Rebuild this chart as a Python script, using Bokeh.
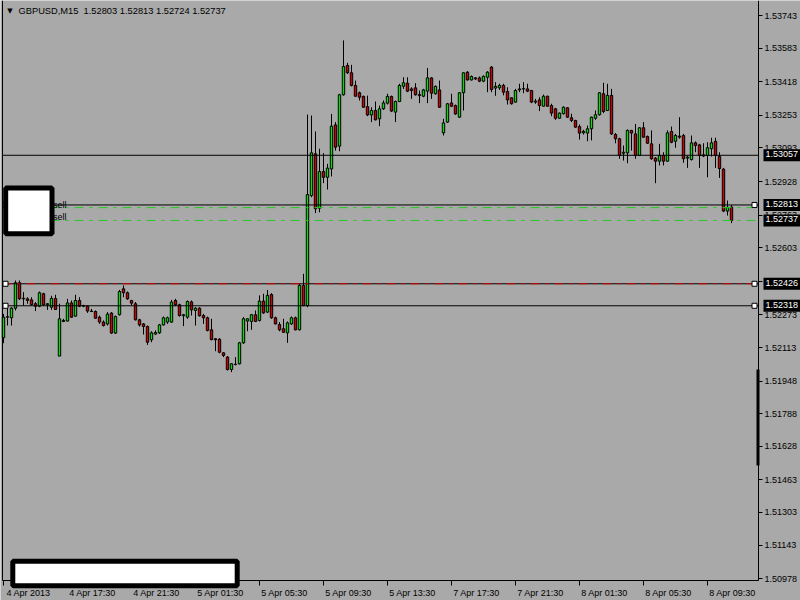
from bokeh.plotting import figure
from bokeh.models import (Range1d, FixedTicker, PrintfTickFormatter, LinearAxis,
                          Label, BoxAnnotation, ColumnDataSource)
from bokeh.embed import file_html
from bokeh.resources import INLINE

symbol = "GBPUSD,M15"

opens = [1.52161, 1.52264, 1.52259, 1.52306, 1.52431, 1.52352, 1.52352, 1.52347, 1.52328, 1.52316,
         1.52377, 1.52323, 1.52311, 1.52354, 1.52071, 1.52246, 1.52243, 1.52332, 1.52267, 1.52344,
         1.52316, 1.52316, 1.52292, 1.52290, 1.52262, 1.52238, 1.52229, 1.52282, 1.52184, 1.52274,
         1.52401, 1.52382, 1.52344, 1.52328, 1.52249, 1.52229, 1.52216, 1.52151, 1.52179, 1.52185,
         1.52224, 1.52238, 1.52238, 1.52344, 1.52323, 1.52269, 1.52262, 1.52337, 1.52295, 1.52306,
         1.52270, 1.52259, 1.52200, 1.52156, 1.52154, 1.52087, 1.52066, 1.52005, 1.52030, 1.52033,
         1.52136, 1.52243, 1.52241, 1.52274, 1.52246, 1.52341, 1.52287, 1.52373, 1.52259, 1.52226,
         1.52205, 1.52185, 1.52229, 1.52259, 1.52200, 1.52418, 1.52319, 1.52859, 1.53064, 1.52797,
         1.52977, 1.52949, 1.52990, 1.53206, 1.53102, 1.53354, 1.53498, 1.53462, 1.53400, 1.53364,
         1.53346, 1.53296, 1.53255, 1.53277, 1.53236, 1.53285, 1.53313, 1.53346, 1.53269, 1.53321,
         1.53396, 1.53411, 1.53383, 1.53388, 1.53355, 1.53347, 1.53372, 1.53437, 1.53359, 1.53378,
         1.53167, 1.53220, 1.53314, 1.53301, 1.53244, 1.53364, 1.53465, 1.53427, 1.53437, 1.53437,
         1.53421, 1.53440, 1.53490, 1.53387, 1.53388, 1.53400, 1.53370, 1.53339, 1.53318, 1.53378,
         1.53383, 1.53383, 1.53375, 1.53318, 1.53329, 1.53298, 1.53347, 1.53301, 1.53285, 1.53239,
         1.53261, 1.53290, 1.53241, 1.53228, 1.53198, 1.53167, 1.53166, 1.53187, 1.53239, 1.53256,
         1.53359, 1.53277, 1.53351, 1.53159, 1.53138, 1.53067, 1.53069, 1.53179, 1.53162, 1.53056,
         1.53192, 1.53149, 1.53113, 1.53043, 1.53028, 1.53056, 1.53028, 1.53174, 1.53126, 1.53151,
         1.53154, 1.53043, 1.53036, 1.53118, 1.53108, 1.53059, 1.53056, 1.53089, 1.53125, 1.53051,
         1.52989, 1.52783, 1.52803]
highs = [1.52278, 1.52311, 1.52311, 1.52442, 1.52442, 1.52385, 1.52360, 1.52360, 1.52336, 1.52388,
         1.52382, 1.52331, 1.52367, 1.52372, 1.52328, 1.52254, 1.52352, 1.52344, 1.52372, 1.52360,
         1.52323, 1.52319, 1.52303, 1.52295, 1.52270, 1.52246, 1.52287, 1.52287, 1.52270, 1.52396,
         1.52418, 1.52388, 1.52347, 1.52336, 1.52254, 1.52233, 1.52221, 1.52193, 1.52197, 1.52229,
         1.52265, 1.52265, 1.52347, 1.52352, 1.52328, 1.52278, 1.52344, 1.52344, 1.52311, 1.52311,
         1.52278, 1.52265, 1.52254, 1.52159, 1.52159, 1.52090, 1.52071, 1.52036, 1.52066, 1.52141,
         1.52262, 1.52257, 1.52278, 1.52295, 1.52369, 1.52377, 1.52396, 1.52380, 1.52265, 1.52238,
         1.52254, 1.52241, 1.52265, 1.52265, 1.52426, 1.52475, 1.53257, 1.53252, 1.53174, 1.53089,
         1.53067, 1.53015, 1.53260, 1.53220, 1.53359, 1.53621, 1.53511, 1.53501, 1.53424, 1.53370,
         1.53350, 1.53350, 1.53293, 1.53321, 1.53301, 1.53326, 1.53359, 1.53350, 1.53326, 1.53408,
         1.53440, 1.53440, 1.53391, 1.53411, 1.53375, 1.53383, 1.53486, 1.53440, 1.53400, 1.53424,
         1.53236, 1.53314, 1.53359, 1.53306, 1.53367, 1.53465, 1.53470, 1.53449, 1.53440, 1.53444,
         1.53449, 1.53470, 1.53495, 1.53416, 1.53408, 1.53408, 1.53391, 1.53342, 1.53383, 1.53408,
         1.53416, 1.53408, 1.53378, 1.53334, 1.53342, 1.53355, 1.53349, 1.53310, 1.53290, 1.53267,
         1.53297, 1.53293, 1.53261, 1.53231, 1.53208, 1.53182, 1.53203, 1.53247, 1.53277, 1.53367,
         1.53413, 1.53408, 1.53383, 1.53166, 1.53143, 1.53105, 1.53184, 1.53182, 1.53211, 1.53195,
         1.53220, 1.53154, 1.53179, 1.53048, 1.53113, 1.53072, 1.53179, 1.53198, 1.53162, 1.53244,
         1.53162, 1.53056, 1.53154, 1.53125, 1.53113, 1.53116, 1.53121, 1.53143, 1.53143, 1.53072,
         1.52995, 1.52835, 1.52813]
lows = [1.52134, 1.52221, 1.52221, 1.52295, 1.52347, 1.52319, 1.52328, 1.52319, 1.52292, 1.52311,
        1.52319, 1.52298, 1.52298, 1.52298, 1.52071, 1.52238, 1.52241, 1.52259, 1.52265, 1.52311,
        1.52311, 1.52283, 1.52287, 1.52254, 1.52229, 1.52216, 1.52221, 1.52180, 1.52180, 1.52270,
        1.52360, 1.52347, 1.52319, 1.52246, 1.52216, 1.52177, 1.52126, 1.52139, 1.52175, 1.52180,
        1.52221, 1.52229, 1.52234, 1.52316, 1.52265, 1.52218, 1.52254, 1.52270, 1.52221, 1.52265,
        1.52229, 1.52192, 1.52148, 1.52095, 1.52085, 1.52066, 1.52000, 1.51992, 1.52025, 1.52030,
        1.52131, 1.52193, 1.52200, 1.52238, 1.52241, 1.52278, 1.52282, 1.52254, 1.52226, 1.52193,
        1.52184, 1.52136, 1.52224, 1.52197, 1.52197, 1.52316, 1.52311, 1.52851, 1.52773, 1.52777,
        1.52920, 1.52889, 1.52953, 1.53080, 1.53077, 1.53350, 1.53457, 1.53395, 1.53346, 1.53326,
        1.53290, 1.53249, 1.53220, 1.53228, 1.53200, 1.53280, 1.53306, 1.53269, 1.53220, 1.53318,
        1.53383, 1.53367, 1.53334, 1.53350, 1.53313, 1.53342, 1.53313, 1.53334, 1.53355, 1.53290,
        1.53154, 1.53216, 1.53293, 1.53255, 1.53241, 1.53277, 1.53424, 1.53424, 1.53427, 1.53416,
        1.53416, 1.53367, 1.53367, 1.53349, 1.53378, 1.53351, 1.53306, 1.53306, 1.53315, 1.53367,
        1.53362, 1.53367, 1.53313, 1.53310, 1.53274, 1.53297, 1.53297, 1.53249, 1.53231, 1.53236,
        1.53257, 1.53241, 1.53220, 1.53192, 1.53134, 1.53159, 1.53126, 1.53130, 1.53231, 1.53252,
        1.53264, 1.53274, 1.53157, 1.53116, 1.53040, 1.53031, 1.53018, 1.53080, 1.53040, 1.53053,
        1.53143, 1.53113, 1.53035, 1.52920, 1.53007, 1.53007, 1.53025, 1.53116, 1.53094, 1.53138,
        1.53020, 1.52995, 1.53031, 1.53072, 1.52995, 1.53048, 1.52949, 1.53051, 1.52995, 1.52946,
        1.52778, 1.52761, 1.52724]
closes = [1.52262, 1.52262, 1.52306, 1.52431, 1.52352, 1.52355, 1.52344, 1.52324, 1.52316, 1.52382,
          1.52323, 1.52328, 1.52354, 1.52300, 1.52254, 1.52241, 1.52332, 1.52262, 1.52344, 1.52316,
          1.52319, 1.52292, 1.52290, 1.52257, 1.52238, 1.52221, 1.52277, 1.52184, 1.52265, 1.52388,
          1.52382, 1.52352, 1.52331, 1.52249, 1.52224, 1.52216, 1.52139, 1.52185, 1.52187, 1.52224,
          1.52259, 1.52259, 1.52336, 1.52323, 1.52270, 1.52274, 1.52339, 1.52298, 1.52306, 1.52269,
          1.52259, 1.52197, 1.52152, 1.52151, 1.52090, 1.52074, 1.52005, 1.52033, 1.52031, 1.52136,
          1.52254, 1.52254, 1.52274, 1.52241, 1.52341, 1.52283, 1.52369, 1.52259, 1.52229, 1.52200,
          1.52188, 1.52234, 1.52259, 1.52200, 1.52418, 1.52319, 1.52864, 1.53069, 1.52794, 1.52977,
          1.52949, 1.52994, 1.53200, 1.53097, 1.53354, 1.53493, 1.53462, 1.53400, 1.53347, 1.53342,
          1.53293, 1.53255, 1.53277, 1.53231, 1.53285, 1.53314, 1.53346, 1.53274, 1.53321, 1.53400,
          1.53413, 1.53372, 1.53375, 1.53354, 1.53350, 1.53378, 1.53437, 1.53362, 1.53395, 1.53293,
          1.53216, 1.53310, 1.53298, 1.53260, 1.53364, 1.53462, 1.53427, 1.53444, 1.53432, 1.53421,
          1.53445, 1.53465, 1.53380, 1.53395, 1.53400, 1.53367, 1.53329, 1.53310, 1.53375, 1.53383,
          1.53384, 1.53372, 1.53318, 1.53323, 1.53301, 1.53347, 1.53298, 1.53264, 1.53239, 1.53264,
          1.53293, 1.53244, 1.53228, 1.53195, 1.53166, 1.53174, 1.53187, 1.53244, 1.53256, 1.53364,
          1.53272, 1.53351, 1.53162, 1.53138, 1.53056, 1.53072, 1.53179, 1.53166, 1.53056, 1.53192,
          1.53146, 1.53116, 1.53040, 1.53028, 1.53056, 1.53028, 1.53167, 1.53121, 1.53154, 1.53146,
          1.53040, 1.53048, 1.53118, 1.53105, 1.53056, 1.53053, 1.53094, 1.53118, 1.53056, 1.52992,
          1.52783, 1.52802, 1.52737]

y_ticks = [1.53743, 1.53583, 1.53418, 1.53253, 1.53093, 1.52928, 1.52763, 1.52603, 1.52438,
           1.52273, 1.52113, 1.51948, 1.51788, 1.51628, 1.51463, 1.51303, 1.51143, 1.50978]
x_tick_idx = [0, 16, 32, 48, 64, 80, 96, 112, 128, 144, 160, 176]
x_tick_labels = ["4 Apr 2013", "4 Apr 17:30", "4 Apr 21:30", "5 Apr 01:30", "5 Apr 05:30",
                 "5 Apr 09:30", "5 Apr 13:30", "7 Apr 17:30", "7 Apr 21:30", "8 Apr 01:30",
                 "8 Apr 05:30", "8 Apr 09:30"]

solid_lines = [1.53057, 1.52813, 1.52426, 1.52318]
marked_lines = [1.52813, 1.52426, 1.52318]
stop_line = 1.52426
order_lines = [1.52800, 1.52737]
axis_price_labels = [1.53057, 1.52813, 1.52737, 1.52426, 1.52318]

# chart window (bars -0.25 .. 188.75, prices 1.50969 .. 1.53817)
X_LO, X_HI = -0.25, 188.75
Y_LO, Y_HI = 1.50969, 1.53817
W, H = 800, 600
LEFT_PAD = 2                      # pixels left of the chart border
SCALE_W, SCALE_H = 42, 20         # pixel room for the price scale and the time scale
LABEL_SHIFT_PX = 25               # time labels start just right of their tick
CHART_W, CHART_H = W - LEFT_PAD - SCALE_W, H - SCALE_H
dx = (X_HI - X_LO) / CHART_W
dy = (Y_HI - Y_LO) / CHART_H
x_start = X_LO - LEFT_PAD * dx
x_end = X_HI + SCALE_W * dx
y_start = Y_LO - SCALE_H * dy

BG = "#a9a9a9"
BULL = "#00e400"
BEAR = "#d00000"
GREEN_LINE = "#22cc22"
FONT = "Liberation Sans"

p = figure(width=W, height=H, x_range=Range1d(x_start, x_end), y_range=Range1d(y_start, Y_HI),
           output_backend="svg", toolbar_location=None, min_border=0,
           x_axis_type=None, y_axis_type=None,
           background_fill_color=BG, border_fill_color=BG, outline_line_color=None)
p.xgrid.visible = False
p.ygrid.visible = False

ya = LinearAxis(fixed_location=X_HI, bounds=(Y_LO, Y_HI),
                ticker=FixedTicker(ticks=y_ticks), formatter=PrintfTickFormatter(format="%.5f"),
                axis_line_color="black", major_tick_line_color="black",
                major_tick_out=4, major_tick_in=0, minor_tick_out=0, minor_tick_line_color=None,
                major_label_standoff=2, major_label_text_font=FONT,
                major_label_text_font_size="9px", major_label_text_color="black")
p.add_layout(ya, "right")

# time scale: rule and tick marks at the bars ...
xa = LinearAxis(fixed_location=Y_LO, bounds=(X_LO, X_HI),
                ticker=FixedTicker(ticks=x_tick_idx),
                major_label_text_color=None, major_label_text_font_size="9px",
                axis_line_color="black", major_tick_line_color="black",
                major_tick_out=5, major_tick_in=0, minor_tick_out=0, minor_tick_line_color=None)
p.add_layout(xa, "below")
# ... and the time texts, which start just right of each tick
label_pos = [t + LABEL_SHIFT_PX * dx for t in x_tick_idx]
xl = LinearAxis(fixed_location=Y_LO, ticker=FixedTicker(ticks=label_pos),
                major_label_overrides={t: s for t, s in zip(label_pos, x_tick_labels)},
                axis_line_color=None, major_tick_line_color=None,
                major_tick_out=5, major_tick_in=0, minor_tick_out=0, minor_tick_line_color=None,
                major_label_standoff=2, major_label_text_font=FONT,
                major_label_text_font_size="9px", major_label_text_color="black")
p.add_layout(xl, "below")

left_border = LinearAxis(fixed_location=X_LO, bounds=(Y_LO, Y_HI), ticker=FixedTicker(ticks=[]),
                         axis_line_color="black", axis_line_width=1,
                         major_tick_line_color=None, minor_tick_line_color=None,
                         major_tick_out=0, minor_tick_out=0)
p.add_layout(left_border, "left")

idx = list(range(len(opens)))
src = ColumnDataSource(dict(
    x=idx, h=highs, l=lows,
    top=[max(o, c) for o, c in zip(opens, closes)],
    bot=[min(o, c) for o, c in zip(opens, closes)],
    color=[BULL if c >= o else BEAR for o, c in zip(opens, closes)],
))
p.segment(x0="x", y0="h", x1="x", y1="l", source=src, line_color="black", line_width=1)
p.vbar(x="x", width=0.6, top="top", bottom="bot", fill_color="color",
       line_color="black", line_width=1, source=src)

# horizontal price lines across the chart window
n_sl = len(solid_lines)
p.segment(x0=[X_LO] * n_sl, y0=solid_lines, x1=[X_HI] * n_sl, y1=solid_lines,
          line_color="black", line_width=1)
p.segment(x0=[X_LO], y0=[stop_line], x1=[X_HI], y1=[stop_line],
          line_color="#dd0000", line_width=1, line_dash="9 6 3 6")
n_ol = len(order_lines)
p.segment(x0=[X_LO] * n_ol, y0=order_lines, x1=[X_HI] * n_ol, y1=order_lines,
          line_color=GREEN_LINE, line_width=1, line_dash="9 6 3 6")

p.scatter(x=[0.5] * len(marked_lines) + [187.75] * len(marked_lines),
          y=marked_lines + marked_lines, marker="square", size=5,
          fill_color="white", line_color="black", line_width=1)

# order texts partly hidden by the box
p.add_layout(Label(x=12.375, y=1.52813, text="sell", text_font=FONT, text_font_size="9px",
                   text_color="black", text_baseline="alphabetic"))
p.add_layout(Label(x=12.375, y=1.52753, text="sell", text_font=FONT, text_font_size="9px",
                   text_color="black", text_baseline="alphabetic"))

# header
p.add_layout(Label(x=1.6, y=1.53765, text="\u25bc", text_font="DejaVu Sans",
                   text_font_size="7px", text_color="black", text_align="center",
                   text_baseline="middle"))
header = f"{symbol}\u00a0 {opens[-1]:.5f} {highs[-1]:.5f} {lows[-1]:.5f} {closes[-1]:.5f}"
p.add_layout(Label(x=3.75, y=1.53765, text=header, text_font=FONT, text_font_size="9.3px",
                   text_color="black", text_baseline="middle"))

# top-left occluding box
p.add_layout(BoxAnnotation(left=0.55, right=12.125, top=1.52896, bottom=1.52672,
                           fill_color="white", fill_alpha=1, line_color="black",
                           line_alpha=1, line_width=5))

# thick bar on the price scale
p.add_layout(BoxAnnotation(left=188.25, right=189.0, top=1.52005, bottom=1.51534,
                           fill_color="black", fill_alpha=1, line_color=None))

# price labels on the scale
for v in axis_price_labels:
    p.add_layout(Label(x=190.0, y=v, text=f"{v:.5f}", text_font=FONT, text_font_size="9px",
                       text_color="white", text_baseline="middle", text_align="left",
                       background_fill_color="black", padding=(2, 8, 2, 4)))

# bottom occluding box, over the time labels
p.add_layout(BoxAnnotation(left=2.325, right=58.425, top=1.51064, bottom=1.50943,
                           fill_color="white", fill_alpha=1, line_color="black",
                           line_alpha=1, line_width=5))

open("out.html", "w").write(file_html(p, INLINE))
